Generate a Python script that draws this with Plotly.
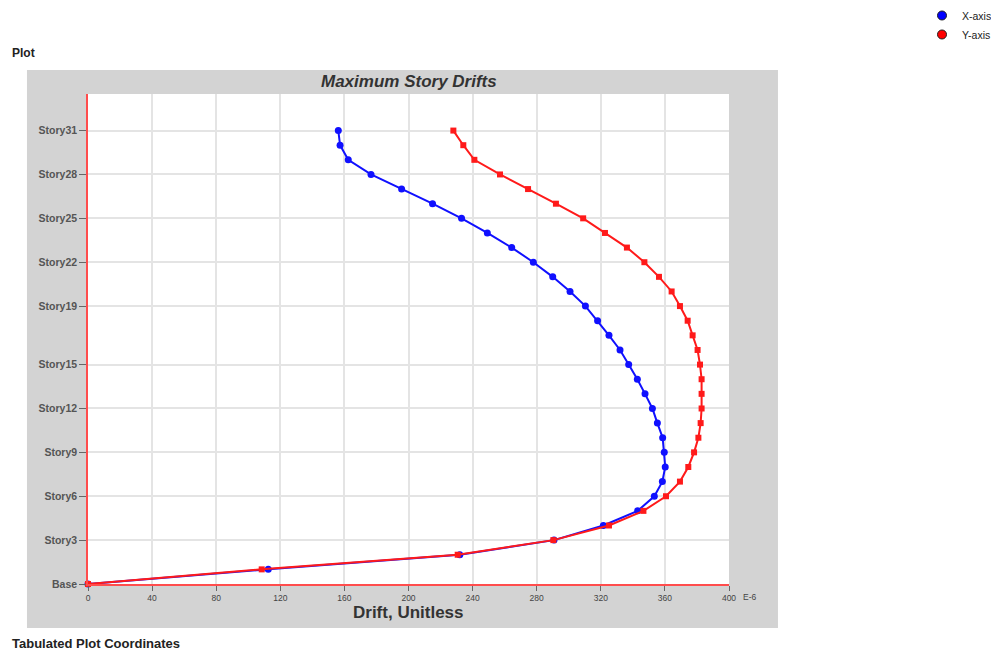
import plotly.graph_objects as go

# ---- data ----
story_index = list(range(0, 32))
drift_x = [0, 112.5, 232, 290.8, 321.6, 343, 353.4, 358.4, 360.2, 359.6, 358.6,
           355.3, 352.2, 347.6, 342.8, 337.4, 332, 325.1, 318, 310.4, 300.8,
           290, 277.9, 264.4, 249.2, 233.1, 215, 195.7, 176.6, 162.4, 157.3, 156.2]
drift_y = [0, 108.4, 230.7, 290.4, 325.1, 346.6, 360.7, 369.4, 374.6, 378.2, 380.9,
           382.3, 382.9, 382.9, 382.9, 381.9, 380.4, 377.3, 374.2, 369.4, 364.2,
           356.3, 347.2, 336.3, 322.6, 309, 292, 274.6, 257.1, 241.1, 234.2, 228]
y_tick_vals = [0, 3, 6, 9, 12, 15, 19, 22, 25, 28, 31]
y_tick_text = ["Base", "Story3", "Story6", "Story9", "Story12", "Story15",
               "Story19", "Story22", "Story25", "Story28", "Story31"]
x_tick_vals = [0, 40, 80, 120, 160, 200, 240, 280, 320, 360, 400]
series_names = ["X-axis", "Y-axis"]

BLUE = "#1010ff"
RED = "#ff1a1a"

fig = go.Figure()
fig.add_trace(go.Scatter(x=drift_x, y=story_index, mode="lines+markers",
                         line=dict(color=BLUE, width=2),
                         marker=dict(color=BLUE, size=7, symbol="circle"),
                         showlegend=False, cliponaxis=False))
fig.add_trace(go.Scatter(x=drift_y, y=story_index, mode="lines+markers",
                         line=dict(color=RED, width=2),
                         marker=dict(color=RED, size=6, symbol="square"),
                         showlegend=False, cliponaxis=False))
# legend entries
for name, col in zip(series_names, ["#0000ff", "#ff0000"]):
    fig.add_trace(go.Scatter(x=[None], y=[None], mode="markers", name=name,
                             marker=dict(color=col, size=9, symbol="circle",
                                         line=dict(color="#202020", width=1))))

# page has an 8px body margin, so the figure is 991x643 placed at (8, 8)
fig.update_layout(
    width=991, height=643,
    margin=dict(l=80, r=270, t=86, b=67, autoexpand=False),
    paper_bgcolor="white", plot_bgcolor="white",
    font=dict(family="Liberation Sans, Arial, sans-serif", color="#444"),
    legend=dict(xref="paper", yref="paper", x=1.3011, y=1.1898,
                xanchor="left", yanchor="top",
                font=dict(family="Liberation Sans Narrow, Liberation Sans, Arial", size=10.5, color="#222"),
                tracegroupgap=0, itemwidth=30, bgcolor="rgba(0,0,0,0)"),
    xaxis=dict(range=[0, 400], tickvals=x_tick_vals, ticks="outside", ticklen=5,
               tickcolor="#666", tickfont=dict(size=8.5, color="#444"),
               showgrid=True, gridcolor="#e4e4e4", gridwidth=1.5,
               showline=True, linecolor="#ff4d4d", linewidth=1.5,
               zeroline=False, fixedrange=True),
    yaxis=dict(range=[0, 33.5], tickvals=y_tick_vals,
               ticktext=["<b>%s</b>" % t for t in y_tick_text],
               ticks="outside", ticklen=7, tickcolor="#666",
               tickfont=dict(size=10.5, color="#555"),
               showgrid=True, gridcolor="#e4e4e4", gridwidth=1.5,
               showline=True, linecolor="#ff4d4d", linewidth=1.5,
               zeroline=False, fixedrange=True),
    shapes=[
        dict(type="rect", xref="paper", yref="paper", x0=-0.0952, x1=1.0764,
             y0=-0.0898, y1=1.049, fillcolor="#d3d3d3", line=dict(width=0), layer="below"),
        dict(type="rect", xref="paper", yref="paper", x0=0, x1=1, y0=0, y1=1,
             fillcolor="white", line=dict(width=0), layer="below"),
    ],
    annotations=[
        dict(text="<b><i>Maximum Story Drifts</i></b>", xref="paper", yref="paper",
             x=0.5, y=1.0265, xanchor="center", yanchor="middle", showarrow=False,
             font=dict(size=17, color="#333")),
        dict(text="<b>Drift, Unitless</b>", xref="paper", yref="paper",
             x=0.5, y=-0.059, xanchor="center", yanchor="middle", showarrow=False,
             font=dict(size=17, color="#333")),
        dict(text="E-6", xref="paper", yref="paper", x=1.0195, y=-0.0265,
             xanchor="left", yanchor="middle", showarrow=False,
             font=dict(size=8.5, color="#444")),
        dict(text="<b>Plot</b>", xref="paper", yref="paper", x=-0.1217, y=1.0837,
             xanchor="left", yanchor="middle", showarrow=False,
             font=dict(size=12, color="#222")),
        dict(text="<b>Tabulated Plot Coordinates</b>", xref="paper", yref="paper",
             x=-0.1217, y=-0.1215, xanchor="left", yanchor="middle", showarrow=False,
             font=dict(size=13, color="#222")),
    ],
)

fig.write_html("out.html")
